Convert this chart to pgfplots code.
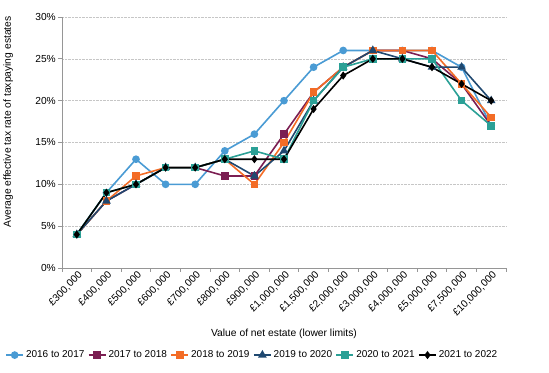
\documentclass[border=0pt]{standalone}
\usepackage{fontspec}
\setmainfont{Liberation Sans}
\usepackage{pgfplots}
\pgfplotsset{compat=1.18}
\definecolor{cblue}{RGB}{74,155,212}
\definecolor{cpurple}{RGB}{123,30,82}
\definecolor{corange}{RGB}{243,108,38}
\definecolor{cnavy}{RGB}{31,72,112}
\definecolor{cteal}{RGB}{43,160,150}
\definecolor{axgray}{RGB}{150,150,150}
\begin{document}
\begin{tikzpicture}
\begin{axis}[
  name=ax,
  scale only axis,
  width=444pt, height=251pt,
  xmin=-0.5, xmax=14.5, ymin=0, ymax=30,
  axis lines*=left,
  axis line style={axgray, line width=0.8pt},
  xtick={0,...,14},
  xticklabels={{£300,000},{£400,000},{£500,000},{£600,000},{£700,000},{£800,000},{£900,000},{£1,000,000},{£1,500,000},{£2,000,000},{£3,000,000},{£4,000,000},{£5,000,000},{£7,500,000},{£10,000,000}},
  minor xtick={-0.5,0.5,...,14.5},
  major x tick style={draw=none},
  minor x tick style={axgray, line width=0.8pt},
  minor tick length=4pt,
  ytick={0,5,...,30},
  y tick style={axgray, line width=0.8pt},
  major tick length=4pt,
  tick align=outside,
  yticklabel={\pgfmathprintnumber{\tick}\%},
  /pgf/number format/assume math mode=true,
  ymajorgrids,
  grid style={gray!45, densely dotted, line width=0.6pt},
  tick label style={font=\fontsize{10.2}{12}\selectfont, text=black},
  xticklabel style={rotate=45, anchor=east, inner sep=0.5pt, xshift=2pt, yshift=-4pt},
  yticklabel style={inner sep=2pt},
  xlabel={Value of net estate (lower limits)},
  ylabel={Average effective tax rate of taxpaying estates},
  label style={font=\fontsize{10.3}{12}\selectfont},
  xlabel style={at={(axis description cs:0.5,-0.263)}, anchor=center},
  ylabel style={at={(axis description cs:-0.121,0.582)}, anchor=center},
  legend columns=6,
  legend style={at={(axis description cs:-0.128,-0.347)}, anchor=west, draw=none, fill=none,
    font=\fontsize{10}{12}\selectfont, inner sep=0pt,
    /tikz/every even column/.append style={column sep=1.5pt}},
  legend cell align=left,
  every axis plot/.append style={line width=1.6pt},
]
\addplot[cblue, mark=*, mark size=3pt] coordinates {(0,4)(1,9)(2,13)(3,10)(4,10)(5,14)(6,16)(7,20)(8,24)(9,26)(10,26)(11,26)(12,26)(13,24)(14,17)};
\addlegendentry{2016 to 2017}
\addplot[cpurple, mark=square*, mark size=3pt] coordinates {(0,4)(1,8)(2,10)(3,12)(4,12)(5,11)(6,11)(7,16)(8,21)(9,24)(10,26)(11,26)(12,25)(13,22)(14,17)};
\addlegendentry{2017 to 2018}
\addplot[corange, mark=square*, mark size=3pt] coordinates {(0,4)(1,8)(2,11)(3,12)(4,12)(5,13)(6,10)(7,15)(8,21)(9,24)(10,26)(11,26)(12,26)(13,22)(14,18)};
\addlegendentry{2018 to 2019}
\addplot[cnavy, mark=triangle*, mark size=3.5pt] coordinates {(0,4)(1,8)(2,10)(3,12)(4,12)(5,13)(6,11)(7,14)(8,20)(9,24)(10,26)(11,25)(12,24)(13,24)(14,20)};
\addlegendentry{2019 to 2020}
\addplot[cteal, mark=square*, mark size=3pt] coordinates {(0,4)(1,9)(2,10)(3,12)(4,12)(5,13)(6,14)(7,13)(8,20)(9,24)(10,25)(11,25)(12,25)(13,20)(14,17)};
\addlegendentry{2020 to 2021}
\addplot[black, mark=diamond*, mark size=2.8pt] coordinates {(0,4)(1,9)(2,10)(3,12)(4,12)(5,13)(6,13)(7,13)(8,19)(9,23)(10,25)(11,25)(12,24)(13,22)(14,20)};
\addlegendentry{2021 to 2022}
\end{axis}
\pgfresetboundingbox
\path[use as bounding box] ([shift={(-62pt,-105pt)}]ax.south west) rectangle ([shift={(43pt,17pt)}]ax.north east);
\end{tikzpicture}
\end{document}
